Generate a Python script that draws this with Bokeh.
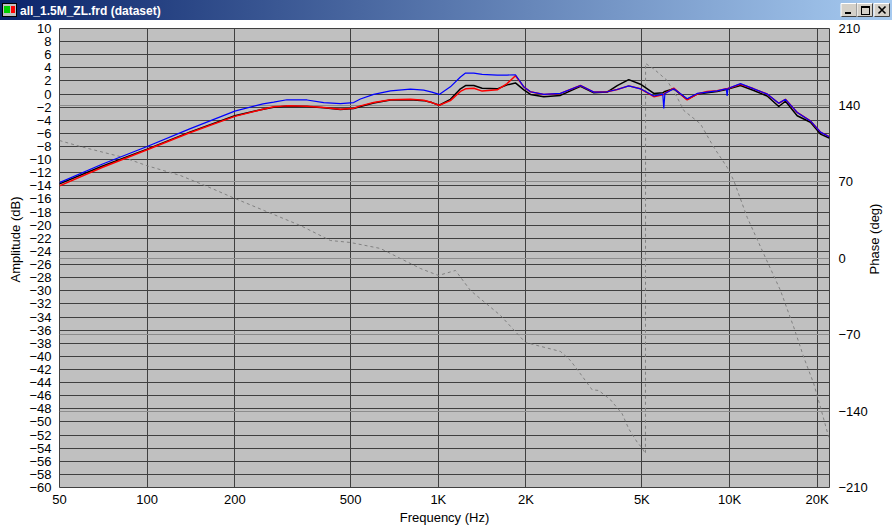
import math
from bokeh.plotting import figure
from bokeh.models import Range1d, LinearAxis, FixedTicker, Grid, Title, Div
from bokeh.layouts import column
from bokeh.embed import file_html
from bokeh.resources import INLINE

FONT = "Liberation Sans"

window_title = "all_1.5M_ZL.frd (dataset)"

# ---- amplitude data (Hz, dB) ----
freq = [50, 70, 100, 140, 200, 250, 272, 302, 354, 404,
        461, 512, 540, 600, 685, 802, 891, 950, 1007, 1100,
        1191, 1240, 1324, 1414, 1593, 1723, 1840, 1966, 2072, 2302,
        2627, 3077, 3419, 3800, 4115, 4508, 4945, 5496, 5900, 5947,
        6000, 6437, 7153, 7744, 8380, 9068, 9750, 9813, 9880, 10906,
        12115, 13468, 14762, 15565, 17078, 18966, 20528, 22000]

amp_black = [-13.7, -11.0, -8.4, -5.8, -3.3, -2.3, -2.0, -1.85, -1.9, -2.1,
             -2.35, -2.2, -1.9, -1.35, -0.9, -0.85, -1.0, -1.3, -1.7, -0.8,
             0.8, 1.3, 1.3, 0.9, 0.8, 1.4, 1.7, 0.65, -0.05, -0.4,
             -0.2, 1.2, 0.2, 0.3, 1.3, 2.2, 1.5, 0.1, 0.2, 0.3,
             0.4, 0.8, -0.8, 0.0, 0.2, 0.4, 0.7, 0.7, 0.75, 1.3,
             0.55, -0.3, -1.9, -1.1, -3.3, -4.3, -6.1, -6.7]

amp_red = [-14.0, -11.2, -8.5, -5.9, -3.4, -2.3, -1.95, -1.8, -1.85, -2.05,
           -2.3, -2.15, -1.8, -1.3, -0.85, -0.8, -0.95, -1.3, -1.7, -1.0,
           0.4, 0.8, 0.9, 0.45, 0.65, 1.6, 2.8, 1.1, 0.35, -0.05,
           0.1, 1.3, 0.3, 0.35, 0.7, 1.25, 0.8, -0.4, -0.1, 0.0,
           0.1, 0.9, -0.9, 0.0, 0.4, 0.5, 0.8, 0.8, 0.85, 1.5,
           0.8, 0.0, -1.4, -0.8, -2.8, -4.1, -5.8, -6.5]

amp_blue = [-13.5, -10.7, -8.0, -5.3, -2.6, -1.5, -1.24, -0.87, -0.9, -1.3,
            -1.45, -1.3, -0.75, -0.05, 0.5, 0.75, 0.6, 0.3, -0.05, 1.1,
            2.6, 3.2, 3.2, 3.0, 2.9, 2.9, 2.95, 1.1, 0.35, -0.05,
            0.1, 1.3, 0.3, 0.35, 0.7, 1.25, 0.8, -0.3, 0.0, -2.2,
            0.1, 0.8, -0.7, 0.1, 0.3, 0.5, 0.8, -0.3, 0.85, 1.6,
            0.8, 0.0, -1.4, -0.8, -2.8, -4.1, -5.8, -6.5]

# ---- phase data (Hz, degrees) ----
phase_freq = [50, 59, 83, 100, 130, 161, 198, 336, 426, 499,
              633, 868, 1001, 1145, 1289, 1635, 1991, 2627, 2843, 3077,
              3375, 3556, 3900, 4278, 4508, 4818, 5012, 5144, 5150, 5496,
              6108, 6609, 6965, 7945, 8828, 9813, 10344, 11496, 13107, 14962,
              16622, 17986, 19466, 20528, 21920]
phase_deg = [107.5, 102, 92, 84.4, 75.5, 65.4, 55, 29.7, 16, 14.2,
             8.7, -9.6, -16, -11.4, -29.7, -52.6, -77.3, -85.5, -93.8, -106,
             -120.6, -121.2, -129.7, -142.5, -156.3, -168.5, -174, -179, 178, 173,
             162.4, 147, 135, 122.8, 101.4, 83, 70.9, 37.3, 3.8, -29.7,
             -63.3, -90.8, -115, -136.5, -164]

# ---- axes ----
freq_ticks = [50, 100, 200, 500, 1000, 2000, 5000, 10000, 20000]
freq_tick_labels = ["50", "100", "200", "500", "1K", "2K", "5K", "10K", "20K"]
amp_ticks = list(range(-60, 12, 2))
phase_ticks = [-210, -140, -70, 0, 70, 140, 210]
phase_grid_ticks = [-140, -70, 0, 70, 140]

p = figure(width=892, height=509, x_axis_type="log",
           x_range=Range1d(50, 22050), y_range=Range1d(-60, 10),
           output_backend="svg", toolbar_location=None,
           min_border_left=59, min_border_right=63,
           min_border_top=8, min_border_bottom=42,
           background_fill_color="#C0C0C0", border_fill_color="white",
           outline_line_color="#404040", outline_line_width=1)

p.extra_y_ranges = {"phase": Range1d(-210, 210)}

# x axis
xa = p.xaxis[0]
xa.ticker = FixedTicker(ticks=freq_ticks)
xa.major_label_overrides = {t: l for t, l in zip(freq_ticks, freq_tick_labels)}
xa.axis_label = "Frequency (Hz)"

# left axis
ya = p.yaxis[0]
ya.ticker = FixedTicker(ticks=amp_ticks)

# right axis: tick labels
ra = LinearAxis(y_range_name="phase", ticker=FixedTicker(ticks=phase_ticks))
p.add_layout(ra, "right")

# second right axis carrying only the title (reads bottom-to-top)
ra2 = LinearAxis(y_range_name="phase", ticker=FixedTicker(ticks=[]))
ra2.axis_label = "\u00a0" * 59 + "Phase (deg)"
ra2.axis_label_orientation = math.pi / 2
ra2.axis_label_align = "start"
ra2.major_label_text_font_size = "0px"
p.add_layout(ra2, "right")

for ax in (xa, ya, ra, ra2):
    ax.axis_line_color = None
    ax.major_tick_line_color = None
    ax.minor_tick_line_color = None
    ax.major_tick_out = 0
    ax.major_tick_in = 0
    ax.minor_tick_out = 0
    ax.minor_tick_in = 0
    ax.major_label_text_font = FONT
    ax.major_label_text_color = "black"
    ax.axis_label_text_font = FONT
    ax.axis_label_text_font_size = "13px"
    ax.axis_label_text_font_style = "normal"
    ax.axis_label_text_color = "black"
for ax in (xa, ya, ra):
    ax.major_label_text_font_size = "13px"

xa.major_label_standoff = 4
xa.axis_label_standoff = 0
ya.major_label_standoff = 8
ra.major_label_standoff = 9
ra2.major_label_standoff = 0
ra2.axis_label_standoff = 4

# left title (rotated, starts 205px above the frame bottom like the original)
p.add_layout(Title(text="Amplitude (dB)", align="left", offset=205,
                   text_font=FONT, text_font_size="13px",
                   text_font_style="normal", text_color="black",
                   standoff=7), "left")

# grids
p.xgrid.ticker = FixedTicker(ticks=freq_ticks)
p.xgrid.grid_line_color = "#404040"
p.xgrid.grid_line_alpha = 1
p.xgrid.minor_grid_line_color = None
p.ygrid.ticker = FixedTicker(ticks=amp_ticks)
p.ygrid.grid_line_color = "#404040"
p.ygrid.grid_line_alpha = 1

pg = Grid(dimension=1, ticker=FixedTicker(ticks=phase_grid_ticks),
          y_range_name="phase", grid_line_color="#8C8C8C", grid_line_width=1)
p.add_layout(pg)

# curves
p.line(phase_freq, phase_deg, y_range_name="phase", line_color="#808080",
       line_width=1, line_dash="3 3")
p.line(freq, amp_black, line_color="black", line_width=1.5)
p.line(freq, amp_red, line_color="#FF0000", line_width=1.5)
p.line(freq, amp_blue, line_color="#0000FF", line_width=1.2)

# window title bar
def button(x):
    return (f'<rect x="{x}" y="3" width="16" height="14" fill="#D4D0C8"/>'
            f'<path d="M{x} {3+13.5} V3.5 H{x+15.5}" stroke="white" fill="none"/>'
            f'<path d="M{x+0.5} {3+13.5} H{x+15.5} V3.5" stroke="#404040" fill="none"/>')

bar_svg = (
    '<svg xmlns="http://www.w3.org/2000/svg" width="892" height="20" style="display:block">'
    '<defs><linearGradient id="tbg" x1="0" x2="1" y1="0" y2="0">'
    '<stop offset="0" stop-color="#0A246A"/><stop offset="1" stop-color="#A6CAF0"/>'
    '</linearGradient></defs>'
    '<rect x="0" y="0" width="892" height="20" fill="url(#tbg)"/>'
    '<rect x="2.5" y="3.5" width="14" height="13" fill="#C0C0C0" stroke="black"/>'
    '<rect x="4" y="6" width="6" height="7" fill="#00D000"/>'
    '<rect x="11" y="6" width="4" height="7" fill="#FF0000"/>'
    f'<text x="20" y="15" fill="white" font-family="{FONT}" font-weight="bold" '
    f'font-size="12">{window_title}</text>'
    + button(841) + button(857) + button(874) +
    '<rect x="845" y="12" width="6" height="2" fill="black"/>'
    '<rect x="861.5" y="6.5" width="8" height="8" fill="none" stroke="black"/>'
    '<rect x="861" y="6" width="9" height="2" fill="black"/>'
    '<path d="M878.5 6.5 L885.5 13.5 M885.5 6.5 L878.5 13.5" stroke="black" stroke-width="1.6"/>'
    '</svg>'
)
bar = Div(text=bar_svg, width=892, height=20, styles={"line-height": "0", "margin": "0", "padding": "0"})

layout = column(bar, p, spacing=0)
layout.styles = {"position": "absolute", "left": "0px", "top": "0px"}

open("out.html", "w").write(file_html(layout, INLINE))
